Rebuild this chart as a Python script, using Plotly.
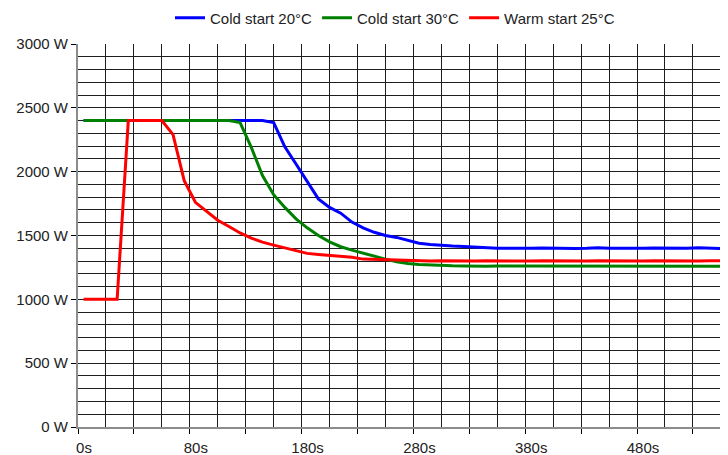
import plotly.graph_objects as go

# ---- data ----
cold20 = [2400, 2400, 2400, 2400, 2400, 2400, 2400, 2400, 2400, 2400,
          2400, 2400, 2400, 2400, 2400, 2400, 2400, 2385, 2195, 2060,
          1925, 1787, 1720, 1675, 1605, 1560, 1525, 1500, 1485, 1460,
          1440, 1430, 1422, 1418, 1414, 1408, 1402, 1400, 1400, 1398,
          1400, 1402, 1400, 1400, 1398, 1400, 1405, 1400, 1398, 1398,
          1400, 1402, 1400, 1398, 1400, 1405, 1400, 1398]
cold30 = [2400, 2400, 2400, 2400, 2400, 2400, 2400, 2400, 2400, 2400,
          2400, 2400, 2400, 2400, 2385, 2190, 1970, 1820, 1720, 1630,
          1560, 1500, 1450, 1412, 1385, 1360, 1335, 1315, 1295, 1280,
          1272, 1268, 1265, 1263, 1262, 1260, 1260, 1262, 1262, 1260,
          1260, 1262, 1262, 1260, 1260, 1260, 1262, 1262, 1260, 1260,
          1260, 1262, 1262, 1260, 1260, 1260, 1262, 1260]
warm25 = [1000, 1000, 1000, 1000, 2400, 2400, 2400, 2400, 2290, 1930,
          1760, 1690, 1620, 1570, 1520, 1480, 1448, 1425, 1405, 1380,
          1360, 1352, 1345, 1338, 1330, 1315, 1312, 1310, 1308, 1305,
          1302, 1300, 1302, 1300, 1298, 1300, 1302, 1300, 1300, 1298,
          1300, 1302, 1300, 1300, 1298, 1300, 1302, 1300, 1300, 1298,
          1300, 1302, 1300, 1300, 1298, 1300, 1302, 1302]

series_names = ["Cold start 20°C", "Cold start 30°C", "Warm start 25°C"]
series_colors = ["#0000FF", "#008000", "#FF0000"]
series_values = [cold20, cold30, warm25]

tick_labels = ["0s", "80s", "180s", "280s", "380s", "480s"]
label_every = 10          # one label per 10 samples
tick_every = 5            # one tick mark per 5 samples
y_ticks = [0, 500, 1000, 1500, 2000, 2500, 3000]

n = len(cold20)
xs = list(range(n))
x_range = [-0.5, n - 0.45]

# tick marks sit on sample boundaries; every second one carries a label
x_tickvals = []
x_ticktext = []
k = 0
while -0.5 + k * tick_every < n:
    x_tickvals.append(-0.5 + k * tick_every)
    idx = k * tick_every // label_every
    x_ticktext.append(tick_labels[idx] if (k * tick_every) % label_every == 0
                      and idx < len(tick_labels) else "")
    k += 1

FONT = "Liberation Sans, Arial, sans-serif"
GRID = "#1e1e1e"
TXT = "#222222"

W, H = 720, 447   # page body has an 8px margin

fig = go.Figure()
for name, color, vals in zip(series_names, series_colors, series_values):
    fig.add_trace(go.Scatter(x=xs, y=vals, mode="lines", name=name,
                             line=dict(color=color, width=3)))

fig.update_layout(
    width=W, height=H,
    margin=dict(l=70, r=1, t=36, b=28, autoexpand=False),
    paper_bgcolor="white", plot_bgcolor="white",
    font=dict(family=FONT, size=15, color=TXT),
    showlegend=True,
    legend=dict(orientation="h", xref="container", yref="container",
                x=387 / W, xanchor="center", y=1 - 10 / H, yanchor="middle",
                font=dict(family=FONT, size=15, color=TXT),
                itemwidth=30, bgcolor="rgba(0,0,0,0)"),
    xaxis=dict(range=x_range, tickmode="array",
               tickvals=x_tickvals, ticktext=x_ticktext,
               ticks="outside", ticklen=5, tickcolor="#000000", tickwidth=1,
               ticklabelshift=6, ticklabelstandoff=1,
               showgrid=True, gridcolor=GRID, gridwidth=1,
               minor=dict(tick0=-0.5, dtick=tick_every / 2, showgrid=True,
                          gridcolor=GRID, gridwidth=1, ticks=""),
               zeroline=False, automargin=False,
               showline=True, linecolor="#8c8c8c", linewidth=2,
               tickfont=dict(family=FONT, size=15, color=TXT)),
    yaxis=dict(range=[0, 3000], tickmode="array", tickvals=y_ticks,
               ticktext=[f"{v} W" for v in y_ticks],
               ticks="outside", ticklen=5,
               tickcolor="#000000", tickwidth=1,
               showgrid=True, gridcolor=GRID, gridwidth=1, zeroline=False,
               showline=True, linecolor="#8c8c8c", linewidth=2,
               ticklabelstandoff=0, automargin=False,
               minor=dict(dtick=100, showgrid=True, gridcolor=GRID,
                          gridwidth=1, ticks=""),
               tickfont=dict(family=FONT, size=15, color=TXT)),
)

fig.write_html("out.html")
